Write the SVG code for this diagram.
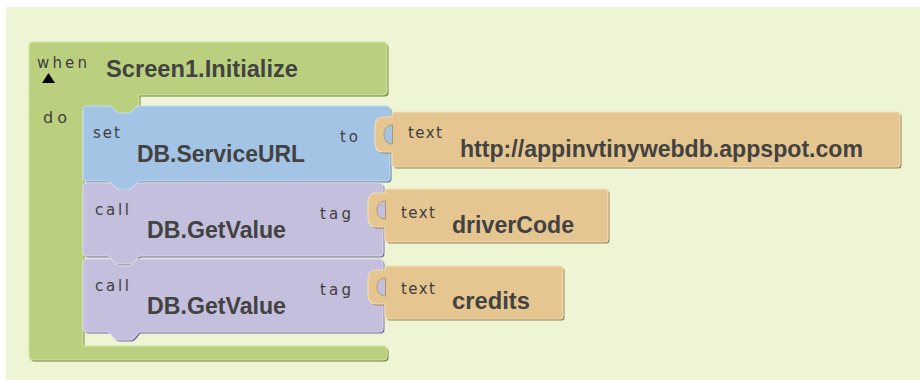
<svg xmlns="http://www.w3.org/2000/svg" xmlns:xlink="http://www.w3.org/1999/xlink" width="920" height="380" viewBox="0 0 920 380">
<style>
.bg{fill:#EDF5D5}
.g{fill:#BBD07F;stroke:#D3E3A2;stroke-width:1.2}
.g-sh{fill:#6F8340}
.b{fill:#A4C4E6;stroke:#C6DBF1;stroke-width:1.2}
.b-sh{fill:#5C7C9E}
.p{fill:#C3BFDD;stroke:#D9D6EC;stroke-width:1.2}
.p-sh{fill:#75719A}
.o{fill:#E6C690;stroke:#F2DDB5;stroke-width:1.2}
.o-sh{fill:#988052}
.lb{fill:#A4C4E6;stroke:#B39866;stroke-width:1}
.lp{fill:#C3BFDD;stroke:#B39866;stroke-width:1}
.sm{font-family:"DejaVu Sans","Liberation Sans",sans-serif;font-size:15px;fill:#3E3E3E}
.bd{font-family:"Liberation Sans",Arial,sans-serif;font-size:23px;font-weight:bold;fill:#424242}
</style>
<defs>
<path id="pg" d="M33,42 H383 Q387,42 387,46 V91 Q387,95 383,95 H139 V114 H83 V346 H383 Q387,346 387,350 V356 Q387,360 383,360 H33 Q29,360 29,356 V46 Q29,42 33,42 Z"/>
<path id="pb" d="M87,106 H110 C113,106 115,113 120,113 H128 C133,113 135,106 138,106 H386 Q390,106 390,110 V177 Q390,181 386,181 H140 C137,181 135,189 130,189 H118 C113,189 111,181 108,181 H87 Q83,181 83,177 V110 Q83,106 87,106 Z"/>
<path id="pp" d="M87,183 H110 C113,183 115,190 120,190 H128 C133,190 135,183 138,183 H379 Q383,183 383,187 V252 Q383,256 379,256 H140 C137,256 135,264 130,264 H118 C113,264 111,256 108,256 H87 Q83,256 83,252 V187 Q83,183 87,183 Z"/>
<path id="po1" d="M395,112 H897 Q900,112 900,115 V164 Q900,167 897,167 H395 Q392,167 392,164 V152 H383 C377,152 375,148 375,142 V127 C375,121 377,117 383,117 H392 V115 Q392,112 395,112 Z"/>
<path id="po2" d="M388,189 H605 Q608,189 608,192 V239 Q608,242 605,242 H388 Q385,242 385,239 V227 H376 C370,227 368,223 368,217 V203 C368,197 370,193 376,193 H385 V192 Q385,189 388,189 Z"/>
<path id="po3" d="M388,266 H560 Q563,266 563,269 V316 Q563,319 560,319 H388 Q385,319 385,316 V304 H376 C370,304 368,300 368,294 V280 C368,274 370,270 376,270 H385 V269 Q385,266 388,266 Z"/>
</defs>
<rect class="bg" x="6" y="7" width="914" height="373"/>

<g id="when-screen1-initialize">
<use xlink:href="#pg" class="g-sh" transform="translate(1.5,1.5)"/>
<use xlink:href="#pg" class="g"/>
<text class="sm" x="37" y="68" textLength="50" lengthAdjust="spacing">when</text>
<polygon points="42,83 48.5,73 55,83" fill="#000"/>
<text class="bd" x="106" y="77" textLength="192" lengthAdjust="spacingAndGlyphs">Screen1.Initialize</text>
<text class="sm" x="43" y="123" textLength="24" lengthAdjust="spacing" style="font-size:16px">do</text>
</g>

<g id="set-db-serviceurl">
<use xlink:href="#pb" class="b-sh" transform="translate(1.5,1.5)"/>
<use xlink:href="#pb" class="b"/>
<text class="sm" x="93" y="138" textLength="27" lengthAdjust="spacing">set</text>
<text class="bd" x="137" y="162" textLength="168" lengthAdjust="spacingAndGlyphs">DB.ServiceURL</text>
<text class="sm" x="340" y="142" textLength="18" lengthAdjust="spacing">to</text>
</g>

<g id="text-url">
<use xlink:href="#po1" class="o-sh" transform="translate(1.5,1.5)"/>
<use xlink:href="#po1" class="o"/>
<path class="lb" d="M392.5,125 C387,125 384,129 384,134.5 C384,140 387,144 392.5,144 Z"/>
<text class="sm" x="408" y="138" textLength="34" lengthAdjust="spacing">text</text>
<text class="bd" x="460" y="157" textLength="403" lengthAdjust="spacingAndGlyphs">http://appinvtinywebdb.appspot.com</text>
</g>

<g id="call-db-getvalue-1">
<use xlink:href="#pp" class="p-sh" transform="translate(1.5,1.5)"/>
<use xlink:href="#pp" class="p"/>
<text class="sm" x="95" y="215" textLength="34" lengthAdjust="spacing">call</text>
<text class="bd" x="147" y="238" textLength="139" lengthAdjust="spacingAndGlyphs">DB.GetValue</text>
<text class="sm" x="320" y="219" textLength="31" lengthAdjust="spacing">tag</text>
</g>

<g id="text-drivercode">
<use xlink:href="#po2" class="o-sh" transform="translate(1.5,1.5)"/>
<use xlink:href="#po2" class="o"/>
<path class="lp" d="M385.5,201 C380,201 377,205 377,210 C377,215 380,219 385.5,219 Z"/>
<text class="sm" x="401" y="218" textLength="34" lengthAdjust="spacing">text</text>
<text class="bd" x="452" y="233" textLength="122" lengthAdjust="spacingAndGlyphs">driverCode</text>
</g>

<g id="call-db-getvalue-2">
<use xlink:href="#pp" class="p-sh" transform="translate(1.5,77.5)"/>
<use xlink:href="#pp" class="p" transform="translate(0,76)"/>
<text class="sm" x="95" y="291" textLength="34" lengthAdjust="spacing">call</text>
<text class="bd" x="147" y="314" textLength="139" lengthAdjust="spacingAndGlyphs">DB.GetValue</text>
<text class="sm" x="320" y="295" textLength="31" lengthAdjust="spacing">tag</text>
</g>

<g id="text-credits">
<use xlink:href="#po3" class="o-sh" transform="translate(1.5,1.5)"/>
<use xlink:href="#po3" class="o"/>
<path class="lp" d="M385.5,278 C380,278 377,282 377,287 C377,292 380,296 385.5,296 Z"/>
<text class="sm" x="401" y="294" textLength="34" lengthAdjust="spacing">text</text>
<text class="bd" x="452" y="309" textLength="78" lengthAdjust="spacingAndGlyphs">credits</text>
</g>

<g id="connectors"/>
</svg>
